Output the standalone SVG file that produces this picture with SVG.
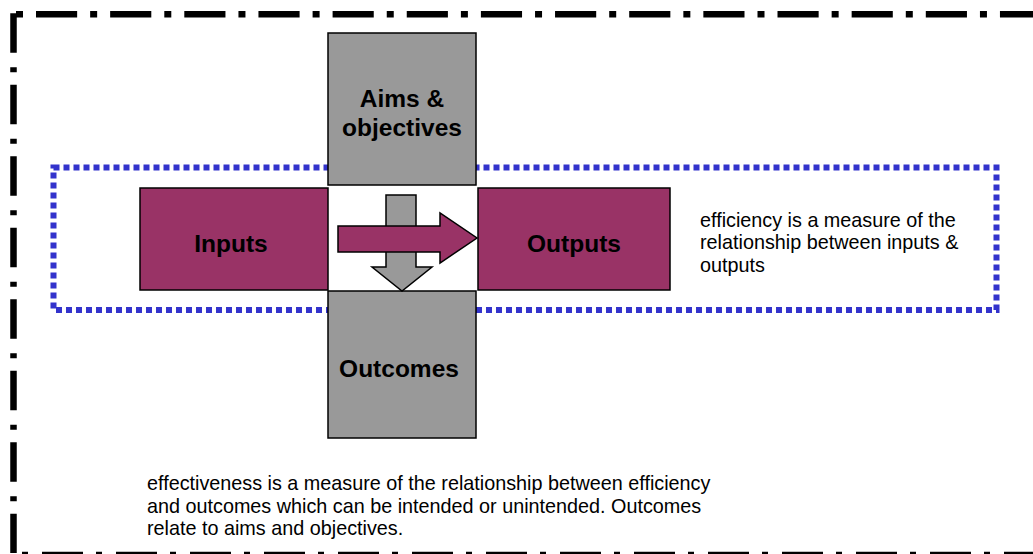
<svg xmlns="http://www.w3.org/2000/svg" width="1033" height="554" viewBox="0 0 1033 554">
  <style>
    .frame { fill: none; stroke: #000; stroke-width: 6.5; }
    .zone { fill: none; stroke: #3333CC; stroke-width: 6; stroke-dasharray: 6 4; }
    .grey { fill: #999999; stroke: #000; stroke-width: 1.5; }
    .plum { fill: #993366; stroke: #000; stroke-width: 1.5; }
    .label { font-family: "Liberation Sans", Arial, sans-serif; font-weight: bold; font-size: 24.5px; fill: #000; text-anchor: middle; }
    .note { font-family: "Liberation Sans", Arial, sans-serif; font-size: 19.8px; fill: #000; }
  </style>
  <rect width="1033" height="554" fill="#fff"/>

  <!-- outer dash-dot frame -->
  <g id="frame">
    <line class="frame" x1="16" y1="14.3" x2="1040" y2="14.3" stroke-dasharray="7 13 41.15 13"/>
    <line class="frame" x1="13.5" y1="13.3" x2="13.5" y2="553" stroke-width="7" stroke-dasharray="39.5 14.5 5 12.5"/>
    <line class="frame" x1="22" y1="555" x2="1040" y2="555" stroke-width="7" stroke-dasharray="6 14 41 13"/>
  </g>

  <!-- efficiency zone -->
  <g id="efficiency-zone">
    <rect class="zone" x="53.5" y="167.5" width="943" height="142.5"/>
  </g>

  <g id="aims">
    <rect class="grey" x="328" y="33" width="148" height="152"/>
    <text class="label" x="402" y="107">Aims &amp;</text>
    <text class="label" x="402" y="136">objectives</text>
  </g>

  <g id="inputs">
    <rect class="plum" x="140" y="188" width="188" height="102"/>
    <text class="label" x="231" y="251.5">Inputs</text>
  </g>

  <g id="outputs">
    <rect class="plum" x="478" y="188" width="192" height="102"/>
    <text class="label" x="574" y="251.5">Outputs</text>
  </g>

  <g id="outcomes">
    <rect class="grey" x="328" y="291" width="148" height="147"/>
    <text class="label" x="399" y="377">Outcomes</text>
  </g>

  <!-- block arrows -->
  <g id="connectors">
    <polygon class="grey" points="386,195 416,195 416,267 432,267 402,291 372,267 386,267"/>
    <polygon class="plum" points="338,226 440,226 440,213 477,238 440,263 440,252 338,252"/>
  </g>

  <g id="efficiency-note">
    <text class="note" x="700" y="226.5">efficiency is a measure of the</text>
    <text class="note" x="700" y="249">relationship between inputs &amp;</text>
    <text class="note" x="700" y="271.5">outputs</text>
  </g>

  <g id="effectiveness-note">
    <text class="note" x="147" y="490">effectiveness is a measure of the relationship between efficiency</text>
    <text class="note" x="147" y="512.5">and outcomes which can be intended or unintended. Outcomes</text>
    <text class="note" x="147" y="535">relate to aims and objectives.</text>
  </g>
</svg>
